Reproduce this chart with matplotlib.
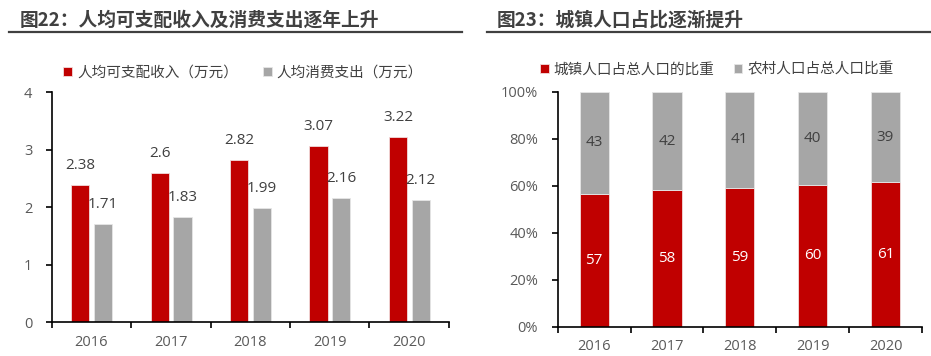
import matplotlib
matplotlib.use("Agg")
import matplotlib.pyplot as plt
import numpy as np
from matplotlib.ticker import FixedLocator, PercentFormatter

plt.rcParams['font.family'] = ['Open Sans', 'Noto Sans CJK SC', 'DejaVu Sans']

years = ['2016', '2017', '2018', '2019', '2020']

# left chart: income vs spending (10k yuan)
income = [2.38, 2.60, 2.82, 3.07, 3.22]
spending = [1.71, 1.83, 1.99, 2.16, 2.12]
income_labels = ['2.38', '2.6', '2.82', '3.07', '3.22']
spending_labels = ['1.71', '1.83', '1.99', '2.16', '2.12']

# right chart: urban / rural share of population (%)
urban = [56.6, 58.0, 59.1, 60.3, 61.4]
rural = [43.4, 42.0, 40.9, 39.7, 38.6]

RED = '#C00000'
GREY = '#A6A6A6'
TXT = '#404040'
TICK = '#595959'

fig = plt.figure(figsize=(9.31, 3.56), dpi=100)

# titles with underline
title_font = ['Noto Sans CJK SC', 'DejaVu Sans']
fig.text(20 / 931, 1 - 20 / 356, '图22：人均可支配收入及消费支出逐年上升', fontsize=13.5,
         fontweight='bold', color=TXT, va='center', ha='left', family=title_font)
fig.text(497 / 931, 1 - 20 / 356, '图23：城镇人口占比逐渐提升', fontsize=13.5,
         fontweight='bold', color=TXT, va='center', ha='left', family=title_font)
fig.add_artist(plt.Line2D([9 / 931, 462 / 931], [1 - 32 / 356] * 2, color='#404040', lw=1.6))
fig.add_artist(plt.Line2D([487 / 931, 1.0], [1 - 32 / 356] * 2, color='#404040', lw=1.6))


def style_axes(ax):
    for s in ['top', 'right']:
        ax.spines[s].set_visible(False)
    for s in ['left', 'bottom']:
        ax.spines[s].set_linewidth(1.2)
        ax.spines[s].set_color('black')
    ax.set_xlim(-0.5, len(years) - 0.5)
    ax.set_xticks(np.arange(len(years)))
    ax.set_xticklabels(years)
    ax.xaxis.set_minor_locator(FixedLocator(np.arange(-0.5, len(years), 1.0)))
    ax.tick_params(axis='x', which='major', length=0, pad=9, labelsize=10.5, labelcolor=TICK)
    ax.tick_params(axis='x', which='minor', length=4, width=1.2, direction='out')
    ax.tick_params(axis='y', length=4, width=1.2, direction='out', pad=10,
                   labelsize=10.5, labelcolor=TICK)


# ---- left chart
ax1 = fig.add_axes([0.0555, 0.0955, 0.4267, 0.6452])
x = np.arange(len(years))
w = 0.23
b1 = ax1.bar(x - 0.14, income, w, color=RED, edgecolor='#f2dcdc', linewidth=0.6,
             label='人均可支配收入（万元）')
b2 = ax1.bar(x + 0.145, spending, w, color=GREY, edgecolor='#e6e6e6', linewidth=0.6,
             label='人均消费支出（万元）')
ax1.set_ylim(0, 4)
ax1.set_yticks([0, 1, 2, 3, 4])
style_axes(ax1)
for bars, labs in [(b1, income_labels), (b2, spending_labels)]:
    for r, lab in zip(bars, labs):
        ax1.annotate(lab, (r.get_x() + r.get_width() / 2, r.get_height()),
                     xytext=(0, 14), textcoords='offset points', ha='center', va='center',
                     fontsize=11, color=TXT)
ax1.legend(loc='lower left', bbox_to_anchor=(0.015, 1.025), ncol=2, frameon=False,
           fontsize=10.5, labelcolor=TXT, handlelength=0.6, handleheight=0.6,
           handletextpad=0.35, columnspacing=1.7, borderaxespad=0)

# ---- right chart
ax2 = fig.add_axes([0.599, 0.0823, 0.3913, 0.660])
w2 = 0.4
r1 = ax2.bar(x, urban, w2, color=RED, edgecolor='#f2dcdc', linewidth=0.6,
             label='城镇人口占总人口的比重')
r2 = ax2.bar(x, rural, w2, bottom=urban, color=GREY, edgecolor='#e6e6e6', linewidth=0.6,
             label='农村人口占总人口比重')
ax2.set_ylim(0, 100)
ax2.set_yticks([0, 20, 40, 60, 80, 100])
ax2.yaxis.set_major_formatter(PercentFormatter(decimals=0))
style_axes(ax2)
ax2.bar_label(r1, labels=[f'{v:.0f}' for v in urban], label_type='center',
              color='white', fontsize=11)
ax2.bar_label(r2, labels=[f'{v:.0f}' for v in rural], label_type='center',
              color=TXT, fontsize=11)
ax2.legend(loc='lower left', bbox_to_anchor=(-0.065, 1.035), ncol=2, frameon=False,
           fontsize=10.5, labelcolor=TXT, handlelength=0.6, handleheight=0.6,
           handletextpad=0.35, columnspacing=1.3, borderaxespad=0)

fig.savefig('out.png', dpi=100)
